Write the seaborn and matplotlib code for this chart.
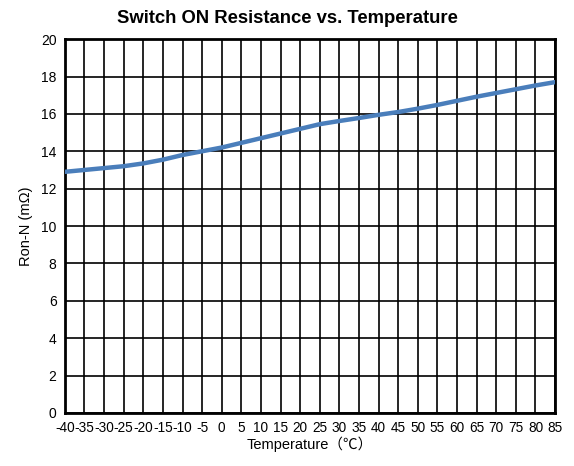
# Ron-N vs temperature
import matplotlib
matplotlib.use('Agg')
import matplotlib.pyplot as plt
import seaborn as sns
import pandas as pd

temperatura = [-40, -35, -30, -25, -20, -15, -10, -5, 0, 5, 10, 15, 20,
               25, 30, 35, 40, 45, 50, 55, 60, 65, 70, 75, 80, 85]
ron_n = [12.9, 13.0, 13.1, 13.2, 13.35, 13.55, 13.8, 14.0, 14.2, 14.45, 14.7, 14.95, 15.2,
         15.45, 15.62, 15.78, 15.95, 16.1, 16.28, 16.48, 16.7, 16.92, 17.12, 17.32, 17.52, 17.7]
x_ticks = list(range(-40, 90, 5))
y_ticks = list(range(0, 22, 2))

dados = pd.DataFrame({'temp': temperatura, 'ron': ron_n})

sns.set_style('white')
plt.rcParams['font.family'] = ['Liberation Sans', 'Noto Sans CJK SC', 'DejaVu Sans']
plt.rcParams['text.color'] = 'black'
plt.rcParams['axes.labelcolor'] = 'black'
plt.rcParams['xtick.color'] = 'black'
plt.rcParams['ytick.color'] = 'black'

fig, ax = plt.subplots(figsize=(5.74, 4.66), dpi=100)
fig.subplots_adjust(left=0.113, right=0.967, top=0.916, bottom=0.114)

sns.lineplot(data=dados, x='temp', y='ron', color='#4a7ebb', linewidth=3.2, ax=ax, zorder=3)

ax.set_xlim(-40, 85)
ax.set_ylim(0, 20)
ax.set_xticks(x_ticks)
ax.set_yticks(y_ticks)
ax.set_xticklabels([str(t) for t in x_ticks], fontsize=9.8)
ax.set_yticklabels([str(t) for t in y_ticks], fontsize=10)
ax.grid(True, color='black', linewidth=1.2)
ax.tick_params(length=0, pad=6)
for s in ax.spines.values():
    s.set_color('black')
    s.set_linewidth(2)

# título centrado na figura, como no original
fig.text(0.5, 0.96, 'Switch ON Resistance vs. Temperature', fontsize=13.3,
         fontweight='bold', ha='center', va='center')
ax.set_xlabel('Temperature（℃）', fontsize=10.5, labelpad=1)
ax.set_ylabel('Ron-N (mΩ)', fontsize=10.5, labelpad=6)

plt.savefig('out.png', dpi=100)
plt.close()
